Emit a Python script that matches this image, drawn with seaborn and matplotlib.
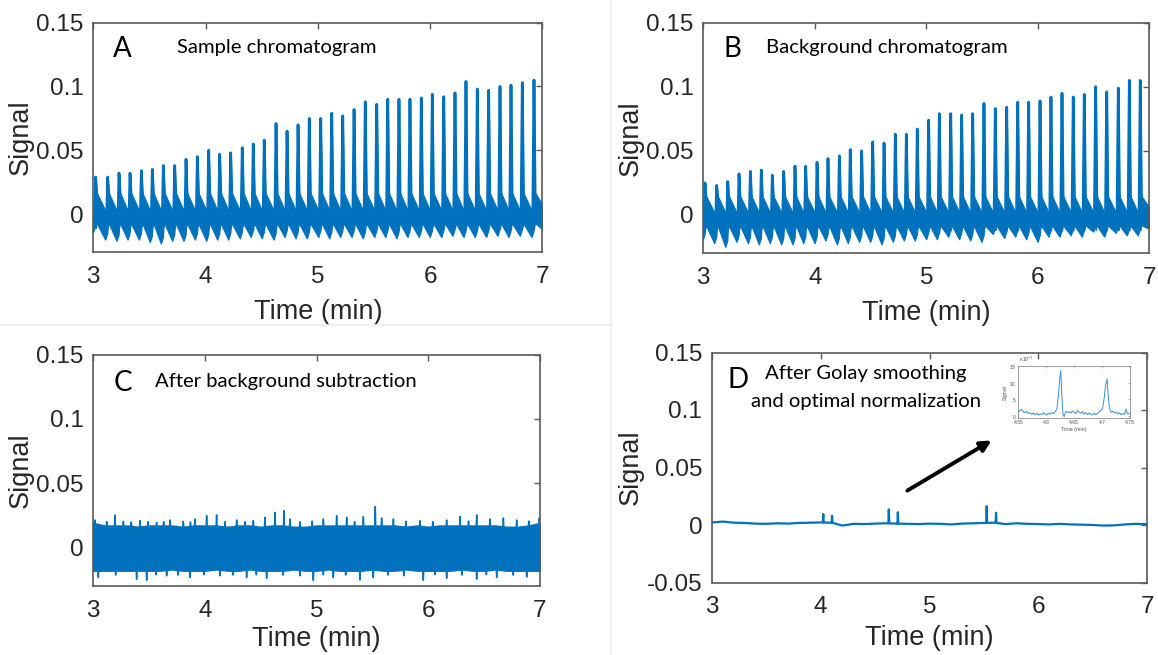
import numpy as np
import pandas as pd
import matplotlib
matplotlib.use("Agg")
import matplotlib.pyplot as plt
from matplotlib.lines import Line2D
from matplotlib.patches import FancyArrowPatch
from matplotlib.ticker import ScalarFormatter
import seaborn as sns

# ---------------- data ----------------
# A: sample chromatogram, one injection peak about every 0.1 min
a_peak_t = [3.021, 3.128, 3.229, 3.327, 3.428, 3.526, 3.624, 3.725, 3.826, 3.927,
            4.028, 4.126, 4.224, 4.327, 4.425, 4.523, 4.628, 4.726, 4.824, 4.924,
            5.026, 5.124, 5.222, 5.323, 5.423, 5.525, 5.623, 5.723, 5.821, 5.922,
            6.020, 6.122, 6.222, 6.320, 6.421, 6.522, 6.623, 6.721, 6.822, 6.926]
a_peak_h = [0.029, 0.029, 0.032, 0.032, 0.034, 0.035, 0.038, 0.038, 0.043, 0.045,
            0.050, 0.047, 0.048, 0.052, 0.055, 0.058, 0.071, 0.065, 0.070, 0.075,
            0.075, 0.079, 0.077, 0.082, 0.088, 0.086, 0.090, 0.090, 0.090, 0.091,
            0.094, 0.092, 0.095, 0.104, 0.098, 0.097, 0.100, 0.101, 0.103, 0.105]
a_trough = [-0.014, -0.020, -0.021, -0.020, -0.020, -0.022, -0.023, -0.021, -0.021, -0.020,
            -0.021, -0.020, -0.020, -0.019, -0.018, -0.019, -0.020, -0.018, -0.019, -0.019,
            -0.018, -0.019, -0.018, -0.018, -0.019, -0.018, -0.018, -0.019, -0.018, -0.018,
            -0.018, -0.018, -0.017, -0.018, -0.018, -0.018, -0.017, -0.018, -0.017, -0.018]
a_end_trough = -0.014

# B: background chromatogram
b_peak_t = [3.015, 3.120, 3.219, 3.320, 3.422, 3.520, 3.619, 3.721, 3.822, 3.918,
            4.020, 4.118, 4.220, 4.318, 4.420, 4.519, 4.621, 4.722, 4.821, 4.919,
            5.021, 5.117, 5.219, 5.317, 5.416, 5.517, 5.619, 5.721, 5.820, 5.918,
            6.020, 6.118, 6.217, 6.318, 6.417, 6.519, 6.618, 6.722, 6.821, 6.919]
b_peak_h = [0.025, 0.023, 0.026, 0.032, 0.034, 0.035, 0.031, 0.034, 0.038, 0.038,
            0.041, 0.044, 0.046, 0.051, 0.050, 0.057, 0.056, 0.063, 0.063, 0.067,
            0.074, 0.079, 0.079, 0.078, 0.079, 0.087, 0.083, 0.084, 0.088, 0.088,
            0.089, 0.092, 0.095, 0.092, 0.094, 0.100, 0.096, 0.099, 0.105, 0.105]
b_trough = [-0.020, -0.022, -0.025, -0.021, -0.022, -0.023, -0.022, -0.023, -0.023, -0.022,
            -0.022, -0.020, -0.023, -0.022, -0.021, -0.021, -0.023, -0.021, -0.020, -0.020,
            -0.019, -0.019, -0.017, -0.019, -0.020, -0.021, -0.015, -0.018, -0.017, -0.019,
            -0.021, -0.017, -0.017, -0.016, -0.017, -0.013, -0.017, -0.014, -0.016, -0.016]
b_end_trough = -0.012

# C: after background subtraction (noise envelope every 0.1 min + isolated spikes)
c_env_t = np.linspace(3.0, 7.0, 41)
c_upper = [0.019, 0.017, 0.017, 0.017, 0.016, 0.017, 0.017, 0.017, 0.016, 0.017,
           0.017, 0.017, 0.016, 0.017, 0.017, 0.016, 0.017, 0.017, 0.016, 0.016,
           0.017, 0.017, 0.017, 0.017, 0.017, 0.017, 0.017, 0.017, 0.016, 0.017,
           0.016, 0.017, 0.017, 0.017, 0.017, 0.017, 0.017, 0.016, 0.016, 0.017, 0.019]
c_lower = [-0.018, -0.018, -0.018, -0.018, -0.018, -0.018, -0.018, -0.017, -0.018, -0.018,
           -0.018, -0.017, -0.018, -0.018, -0.017, -0.018, -0.018, -0.018, -0.017, -0.018,
           -0.018, -0.017, -0.018, -0.018, -0.018, -0.017, -0.018, -0.018, -0.017, -0.018,
           -0.018, -0.018, -0.018, -0.017, -0.018, -0.018, -0.017, -0.018, -0.018, -0.018, -0.018]
c_up_spike_t = [3.015, 3.120, 3.194, 3.269, 3.340, 3.418, 3.490, 3.567, 3.630, 3.687,
                3.806, 3.870, 3.910, 4.015, 4.104, 4.180, 4.284, 4.360, 4.433, 4.537,
                4.627, 4.707, 4.761, 4.850, 4.960, 5.060, 5.179, 5.269, 5.340, 5.418,
                5.525, 5.582, 5.687, 5.800, 5.925, 6.040, 6.164, 6.284, 6.360, 6.433,
                6.552, 6.672, 6.791, 6.900, 6.994]
c_up_spike_v = [0.0214, 0.0200, 0.0253, 0.0203, 0.0198, 0.0208, 0.0200, 0.0195, 0.0200, 0.0214,
                0.0203, 0.0198, 0.0221, 0.0247, 0.0253, 0.0200, 0.0214, 0.0200, 0.0208, 0.0234,
                0.0273, 0.0286, 0.0221, 0.0200, 0.0205, 0.0221, 0.0247, 0.0234, 0.0200, 0.0240,
                0.0318, 0.0229, 0.0221, 0.0203, 0.0208, 0.0200, 0.0214, 0.0240, 0.0205, 0.0253,
                0.0221, 0.0229, 0.0214, 0.0205, 0.0229]
c_lo_spike_t = [3.045, 3.200, 3.388, 3.478, 3.560, 3.657, 3.760, 3.866, 3.990, 4.134,
                4.250, 4.373, 4.460, 4.552, 4.700, 4.850, 4.970, 5.060, 5.149, 5.260,
                5.388, 5.507, 5.640, 5.780, 5.955, 6.060, 6.164, 6.300, 6.433, 6.520,
                6.612, 6.760, 6.881]
c_lo_spike_v = [-0.0234, -0.0215, -0.0247, -0.0255, -0.0212, -0.0221, -0.0215, -0.0234, -0.0212, -0.0221,
                -0.0215, -0.0234, -0.0212, -0.0240, -0.0215, -0.0220, -0.0255, -0.0212, -0.0234, -0.0215,
                -0.0253, -0.0234, -0.0215, -0.0220, -0.0255, -0.0212, -0.0240, -0.0215, -0.0247, -0.0212,
                -0.0234, -0.0215, -0.0229]

# D: after Golay smoothing and optimal normalization
d_base_t = np.linspace(3.0, 7.0, 41)
d_base_v = [0.0022, 0.0030, 0.0020, 0.0018, 0.0012, 0.0010, 0.0015, 0.0012, 0.0018, 0.0020,
            0.0022, 0.0020, -0.0005, 0.0010, 0.0008, 0.0012, 0.0015, 0.0012, 0.0010, 0.0008,
            0.0012, 0.0010, 0.0005, 0.0012, 0.0015, 0.0018, 0.0020, 0.0008, 0.0015, 0.0010,
            0.0008, 0.0005, 0.0010, 0.0005, 0.0003, 0.0000, -0.0005, -0.0003, 0.0005, 0.0010, 0.0008]
d_peak_t = [4.023, 4.104, 4.626, 4.709, 5.526, 5.612]
d_peak_h = [0.0095, 0.0080, 0.0136, 0.0111, 0.0164, 0.0106]

# inset: zoom on 4.55-4.75 min (apexes come from d_peak_t / d_peak_h)
ins_t = [4.550, 4.553, 4.556, 4.559, 4.562, 4.565, 4.568, 4.571, 4.574, 4.577,
         4.580, 4.583, 4.586, 4.589, 4.592, 4.595, 4.598, 4.601, 4.604, 4.607,
         4.610, 4.613, 4.616, 4.619, 4.622, 4.624, 4.628, 4.630, 4.632, 4.635,
         4.638, 4.641, 4.644, 4.647, 4.650, 4.653, 4.656, 4.659, 4.662, 4.665,
         4.668, 4.671, 4.674, 4.677, 4.680, 4.683, 4.686, 4.689, 4.692, 4.695,
         4.698, 4.701, 4.704, 4.706, 4.711, 4.713, 4.716, 4.719, 4.722, 4.725,
         4.728, 4.731, 4.734, 4.737, 4.740, 4.743, 4.745, 4.747, 4.750]
ins_v = [1.0, 1.6, 1.9, 1.1, 0.9, 1.3, 0.6, 0.9, 0.4, 0.8,
         0.3, 0.7, 0.2, 0.6, 0.3, 0.9, 0.5, 0.2, 0.7, 0.4,
         0.9, 0.6, 1.2, 2.0, 6.5, 11.0, 6.0, 0.5, -0.3, 1.3,
         0.9, 1.2, 0.8, 1.4, 1.0, 0.6, 1.5, 1.1, 0.7, 1.2,
         0.5, 0.9, 0.3, 0.8, 0.4, 0.2, 0.7, 0.3, 0.8, 1.1,
         1.6, 2.3, 5.5, 9.0, 6.0, 2.5, 1.0, 1.4, 0.8, 1.1,
         0.5, 0.9, 0.3, 0.6, 0.4, 2.0, 0.6, 0.5, 0.8]   # x 1e-3

x_ticks = [3, 4, 5, 6, 7]
y_ticks = [0, 0.05, 0.1, 0.15]
y_tick_labels = ["0", "0.05", "0.1", "0.15"]
d_y_ticks = [-0.05, 0, 0.05, 0.1, 0.15]
d_y_tick_labels = ["-0.05", "0", "0.05", "0.1", "0.15"]

# ---------------- style ----------------
sns.set_theme(style="white")
plt.rcParams["font.family"] = ["Liberation Sans", "DejaVu Sans"]
BLUE = "#0072BD"
SPINE = "#5a5a5a"
TXT = "#262626"
NOTE_FONT = ["Lato", "DejaVu Sans"]
NOTE_SIZE = 14.6

W, H = 1158, 655
fig = plt.figure(figsize=(W / 100, H / 100), dpi=100)
fig.patch.set_facecolor("white")


def axes_px(left, top, right, bottom):
    return fig.add_axes([left / W, 1 - bottom / H, (right - left) / W, (bottom - top) / H])


def style_axes(ax, ylim, yticks, ylabels, xlabelpad=8):
    ax.set_xlim(3, 7)
    ax.set_ylim(*ylim)
    ax.set_xticks(x_ticks)
    ax.set_xticklabels([str(v) for v in x_ticks])
    ax.set_yticks(yticks)
    ax.set_yticklabels(ylabels)
    ax.tick_params(direction="in", length=4, width=1, top=True, right=True,
                   labelsize=17.5, color=SPINE, labelcolor=TXT)
    ax.tick_params(axis="x", pad=10)
    ax.tick_params(axis="y", pad=7)
    for s in ax.spines.values():
        s.set_visible(True)
        s.set_color(SPINE)
        s.set_linewidth(1.2)
    ax.set_xlabel("Time (min)", fontsize=19.5, color=TXT, labelpad=xlabelpad)
    ax.set_ylabel("Signal", fontsize=19.5, color=TXT, labelpad=2)
    ax.set_facecolor("white")


def draw_cycles(ax, peak_t, peak_h, trough, end_trough,
                top_after=0.017, bot_after=-0.007, top_before=0.003):
    # noisy band between injections, outlined by the sharp injection peaks
    t, hi, lo = [], [], []
    for tp, h, tr in zip(peak_t, peak_h, trough):
        t += [tp - 0.022, tp - 0.004, tp, tp + 0.008]
        hi += [top_before, top_before + 0.003, h, top_after]
        lo += [tr, tr + 0.005, bot_after - 0.004, bot_after]
    t.append(7.03)
    hi.append(top_before)
    lo.append(end_trough)
    ax.fill_between(t, lo, hi, color=BLUE, linewidth=0.9, edgecolor=BLUE)
    rows = []
    for k, (tp, h, tr) in enumerate(zip(peak_t, peak_h, trough)):
        rows += [(k, tp - 0.012, tr + 0.006), (k, tp, h), (k, tp + 0.010, top_after - 0.002)]
    df = pd.DataFrame(rows, columns=["peak", "t", "v"])
    sns.lineplot(data=df, x="t", y="v", units="peak", estimator=None, sort=False,
                 color=BLUE, lw=2.0, ax=ax, legend=False)


# ---------------- A ----------------
axA = axes_px(93.3, 22.7, 542.3, 252.3)
draw_cycles(axA, a_peak_t, a_peak_h, a_trough, a_end_trough)
style_axes(axA, (-0.03, 0.15), y_ticks, y_tick_labels)

# ---------------- B ----------------
axB = axes_px(703.3, 22.7, 1149.3, 253.3)
draw_cycles(axB, b_peak_t, b_peak_h, b_trough, b_end_trough,
            top_after=0.015, bot_after=-0.008, top_before=0.002)
style_axes(axB, (-0.03, 0.15), y_ticks, y_tick_labels)

# ---------------- C ----------------
axC = axes_px(93.3, 354.7, 540.0, 586.0)
axC.fill_between(c_env_t, c_lower, c_upper, color=BLUE, linewidth=1.2, edgecolor=BLUE)
rows = []
for k, (ts, vs) in enumerate(zip(c_up_spike_t, c_up_spike_v)):
    base = np.interp(ts, c_env_t, c_upper)
    rows += [(k, ts - 0.004, base), (k, ts, vs), (k, ts + 0.004, base)]
n0 = len(c_up_spike_t)
for k, (ts, vs) in enumerate(zip(c_lo_spike_t, c_lo_spike_v)):
    base = np.interp(ts, c_env_t, c_lower)
    rows += [(n0 + k, ts - 0.004, base), (n0 + k, ts, vs), (n0 + k, ts + 0.004, base)]
spikes = pd.DataFrame(rows, columns=["spike", "t", "v"])
sns.lineplot(data=spikes, x="t", y="v", units="spike", estimator=None, sort=False,
             color=BLUE, lw=1.1, ax=axC, legend=False)
style_axes(axC, (-0.03, 0.15), y_ticks, y_tick_labels, xlabelpad=3)

# ---------------- D ----------------
axD = axes_px(712.0, 352.5, 1147.0, 582.5)
d_rows = [(t, v) for t, v in zip(d_base_t, d_base_v)]
for tp, h in zip(d_peak_t, d_peak_h):
    for dt in (-0.004, 0.004):
        d_rows.append((tp + dt, float(np.interp(tp + dt, d_base_t, d_base_v))))
    d_rows.append((tp, h))
d_df = pd.DataFrame(sorted(d_rows), columns=["t", "v"])
sns.lineplot(data=d_df, x="t", y="v", estimator=None, sort=False,
             color=BLUE, lw=1.6, ax=axD, legend=False)
style_axes(axD, (-0.05, 0.15), d_y_ticks, d_y_tick_labels, xlabelpad=5)

# inset of the two peaks near 4.6-4.7 min
ins_rows = [(t, v * 1e-3) for t, v in zip(ins_t, ins_v)]
for tp, h in zip(d_peak_t, d_peak_h):
    if 4.55 <= tp <= 4.75:
        ins_rows.append((tp, h))
ins_df = pd.DataFrame(sorted(ins_rows), columns=["t", "v"])
axI = axes_px(1018.3, 366.0, 1130.0, 418.3)
sns.lineplot(data=ins_df, x="t", y="v", estimator=None, sort=False,
             color="#3a8fd6", lw=0.7, ax=axI, legend=False)
axI.set_xlim(4.55, 4.75)
axI.set_ylim(-0.0008, 0.015)
axI.set_xticks([4.55, 4.6, 4.65, 4.7, 4.75])
axI.set_xticklabels(["4.55", "4.6", "4.65", "4.7", "4.75"])
axI.set_yticks([0, 0.005, 0.01, 0.015])
fmt = ScalarFormatter(useMathText=True)
fmt.set_powerlimits((-3, -3))
axI.yaxis.set_major_formatter(fmt)
axI.yaxis.get_offset_text().set_fontsize(3.5)
axI.yaxis.get_offset_text().set_color("#555555")
axI.tick_params(direction="in", length=1.2, width=0.4, top=True, right=True,
                labelsize=3.6, color="#777777", labelcolor="#555555", pad=1.5)
for s in axI.spines.values():
    s.set_visible(True)
    s.set_color("#777777")
    s.set_linewidth(0.5)
axI.set_xlabel("Time (min)", fontsize=3.8, color="#555555", labelpad=1)
axI.set_ylabel("Signal", fontsize=3.8, color="#555555", labelpad=1)


# ---------------- panel notes ----------------
def note(x, y, s, size, **kw):
    fig.text(x / W, 1 - y / H, s, fontsize=size, family=NOTE_FONT, color="black",
             va="center", **kw)


note(113, 49, "A", 20)
note(177, 47, "Sample chromatogram", NOTE_SIZE)
note(724, 49, "B", 20)
note(766, 47, "Background chromatogram", NOTE_SIZE)
note(114, 383, "C", 20)
note(155, 381, "After background subtraction", NOTE_SIZE)
note(728, 380, "D", 20)
note(866, 374, "After Golay smoothing", NOTE_SIZE, ha="center")
note(866, 402, "and optimal normalization", NOTE_SIZE, ha="center")

fig.add_artist(FancyArrowPatch(
    (905 / W, 1 - 492 / H), (994 / W, 1 - 439 / H), transform=fig.transFigure,
    arrowstyle="-|>", mutation_scale=16, lw=2.8, color="black"))

# faint frame lines between the panel images
fig.add_artist(Line2D([0, 611 / W], [1 - 325 / H] * 2, transform=fig.transFigure,
                      color="#ececec", lw=1.2))
fig.add_artist(Line2D([611 / W] * 2, [0, 1], transform=fig.transFigure,
                      color="#ececec", lw=1.2))

fig.savefig("out.png", dpi=100, facecolor="white")
